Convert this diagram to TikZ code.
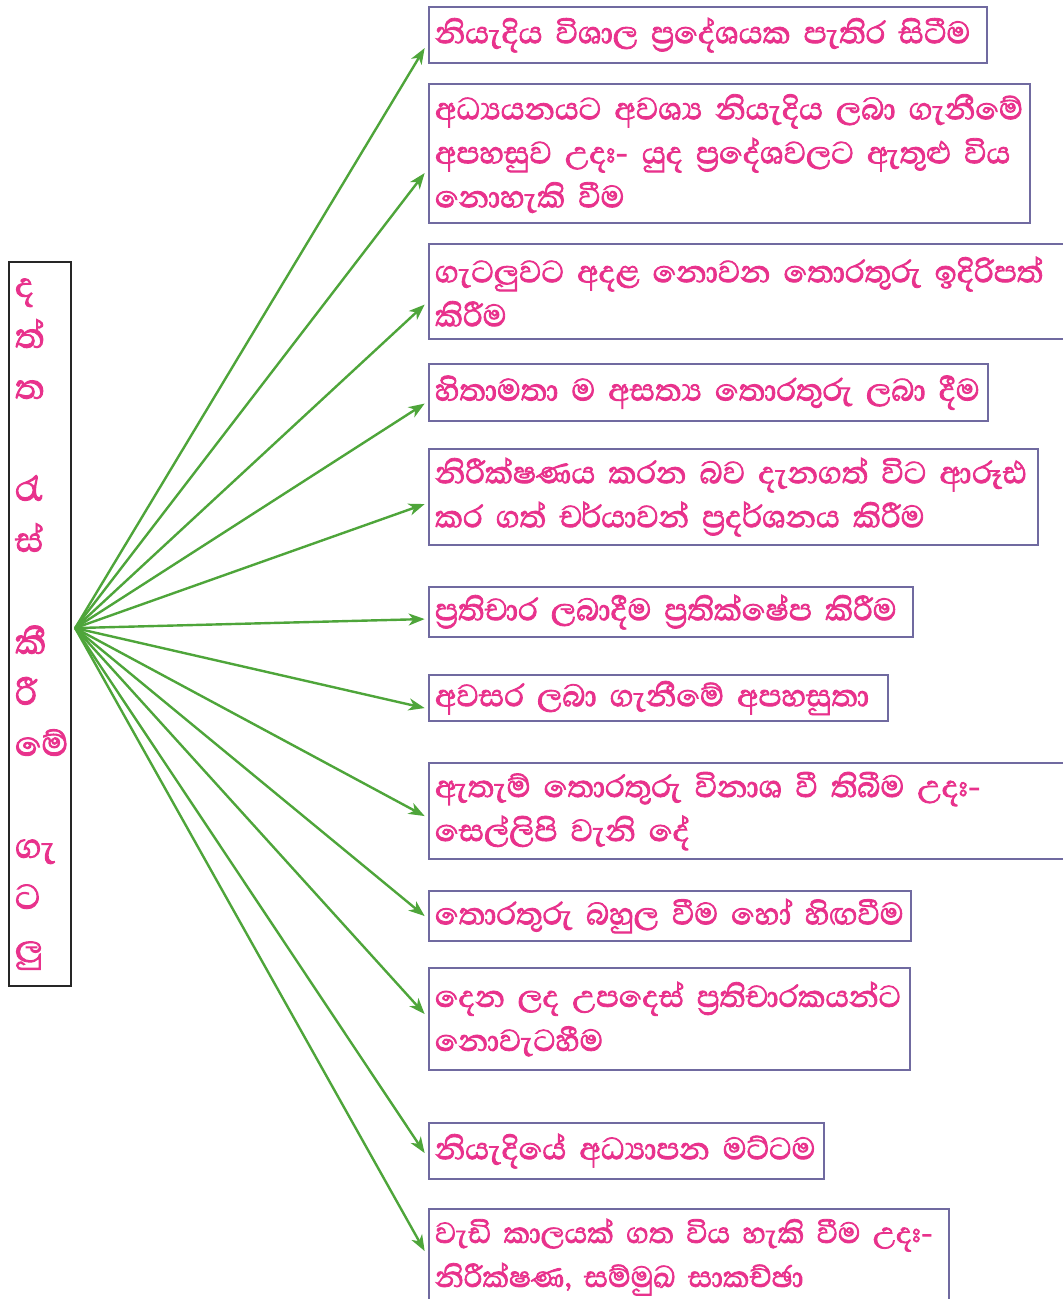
\documentclass[tikz,border=0pt]{standalone}
\usepackage{fontspec}
\newfontfamily\sinfont[Script=Sinhala, FakeBold=2.2]{Abhaya Libre}
\usetikzlibrary{arrows.meta}
\definecolor{pinkc}{RGB}{232,50,140}
\definecolor{boxc}{RGB}{112,106,160}
\definecolor{arrc}{RGB}{78,165,58}
\tikzset{
  item/.style={draw=boxc, line width=1.6pt, anchor=north west, inner ysep=0pt, inner xsep=4.5pt,
    text=pinkc, align=left, font=\sinfont\fontsize{29.5}{33}\selectfont},
  srcbox/.style={draw=black!85, line width=1.6pt, anchor=north west, inner sep=0pt,
    text=pinkc, align=left, font=\sinfont\fontsize{33}{38.25}\selectfont},
  arr/.style={draw=arrc, line width=1.8pt, -{Stealth[length=12pt,width=9pt,inset=3.5pt]}}
}
\newcommand{\ZJ}{^^^^200d}
\newcommand{\one}[1]{\mbox{#1}}
\begin{document}
\begin{tikzpicture}[x=0.75pt,y=-0.75pt]
\useasboundingbox (0,0) rectangle (1063,1299);
\node[srcbox, minimum width={62*0.75pt}, minimum height={724*0.75pt}, text width={50*0.75pt}, inner xsep={6*0.75pt}] (src) at (8,261)
 {ද\\ත්\\ත\\[38.25pt]රැ\\ස්\\[38.25pt]කී\\රී\\මේ\\[38.25pt]ගැ\\ට\\ලු};
\node[item, text width={546*0.75pt}, minimum height={56*0.75pt}] (b1) at (428,6) {\one{නියැදිය විශාල ප්\ZJ රදේශයක පැතිර සිටීම}};
\node[item, text width={589*0.75pt}, minimum height={139*0.75pt}] (b2) at (428,83) {\one{අධ්\ZJ යයනයට අවශ්\ZJ ය නියැදිය ලබා ගැනීමේ}\\\one{අපහසුව උදඃ- යුද ප්\ZJ රදේශවලට ඇතුළු විය}\\\one{නොහැකි වීම}};
\node[item, text width={635*0.75pt}, minimum height={95*0.75pt}] (b3) at (428,243) {\one{ගැටලුවට අදළ නොවන තොරතුරු ඉදිරිපත්}\\\one{කිරීම}};
\node[item, text width={547*0.75pt}, minimum height={57*0.75pt}] (b4) at (428,363) {\one{හිතාමතා ම අසත්\ZJ ය තොරතුරු ලබා දීම}};
\node[item, text width={597*0.75pt}, minimum height={96*0.75pt}] (b5) at (428,448) {\one{නිරීක්ෂණය කරන බව දැනගත් විට ආරූඪ}\\\one{කර ගත් චර්යාවන් ප්\ZJ රදර්ශනය කිරීම}};
\node[item, text width={472*0.75pt}, minimum height={50*0.75pt}] (b6) at (428,586) {\one{ප්\ZJ රතිචාර ලබාදීම ප්\ZJ රතික්ෂේප කිරීම}};
\node[item, text width={447*0.75pt}, minimum height={46*0.75pt}] (b7) at (428,674) {\one{අවසර ලබා ගැනීමේ අපහසුතා}};
\node[item, text width={635*0.75pt}, minimum height={96*0.75pt}] (b8) at (428,762) {\one{ඇතැම් තොරතුරු විනාශ වී තිබීම උදඃ-}\\\one{සෙල්ලිපි වැනි දේ}};
\node[item, text width={470*0.75pt}, minimum height={50*0.75pt}] (b9) at (428,890) {\one{තොරතුරු බහුල වීම හෝ හිඟවීම}};
\node[item, text width={469*0.75pt}, minimum height={102*0.75pt}, font=\sinfont\fontsize{29}{33}\selectfont] (b10) at (428,967) {\one{දෙන ලද උපදෙස් ප්\ZJ රතිචාරකයන්ට}\\\one{නොවැටහීම}};
\node[item, text width={383*0.75pt}, minimum height={56*0.75pt}] (b11) at (428,1122) {\one{නියැදියේ අධ්\ZJ යාපන මට්ටම}};
\node[item, text width={508*0.75pt}, minimum height={96*0.75pt}, font=\sinfont\fontsize{28}{33}\selectfont] (b12) at (428,1208) {\one{වැඩි කාලයක් ගත විය හැකි වීම උදඃ-}\\\one{නිරීක්ෂණ, සම්මුඛ සාකච්ඡා}};
\coordinate (o) at ([xshift=2.25pt,yshift=-3pt]src.east);
\draw[arr] (o) -- ([xshift=-2.5pt,yshift=-9.75pt]b1.west);
\draw[arr] (o) -- ([xshift=-2.5pt,yshift=-14.6pt]b2.west);
\draw[arr] (o) -- ([xshift=-2.5pt,yshift=-9.75pt]b3.west);
\draw[arr] (o) -- ([xshift=-2.5pt,yshift=-8.25pt]b4.west);
\draw[arr] (o) -- ([xshift=-2.5pt,yshift=-5.25pt]b5.west);
\draw[arr] (o) -- ([xshift=-2.5pt,yshift=-5.25pt]b6.west);
\draw[arr] (o) -- ([xshift=-2.5pt,yshift=-7.5pt]b7.west);
\draw[arr] (o) -- ([xshift=-2.5pt,yshift=-3.75pt]b8.west);
\draw[arr] (o) -- ([xshift=-2.5pt,yshift=0pt]b9.west);
\draw[arr] (o) -- ([xshift=-2.5pt,yshift=3.75pt]b10.west);
\draw[arr] (o) -- ([xshift=-2.5pt,yshift=-1.5pt]b11.west);
\draw[arr] (o) -- ([xshift=-2.5pt,yshift=4.5pt]b12.west);
\end{tikzpicture}
\end{document}
